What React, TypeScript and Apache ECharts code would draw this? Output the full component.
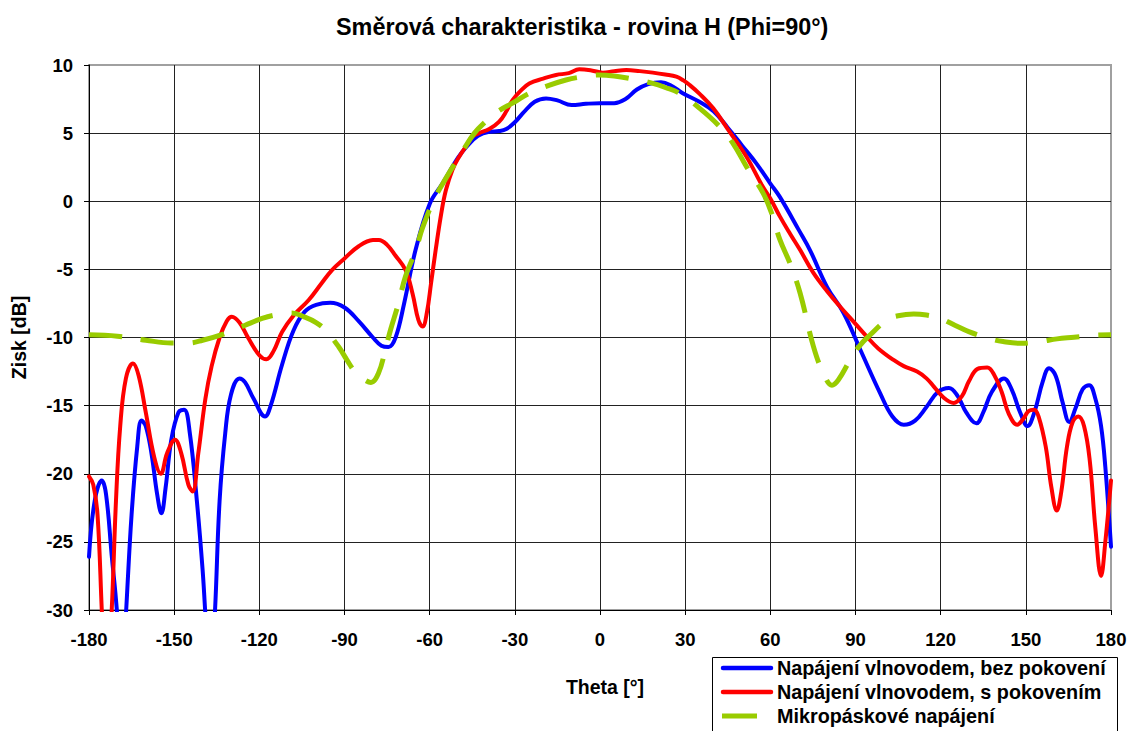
import React, { useEffect, useRef } from "react";
import * as echarts from "echarts";

const titleText = "Směrová charakteristika - rovina H (Phi=90°)";
const xAxisName = "Theta [°]";
const yAxisName = "Zisk [dB]";
const seriesNames = [
  "Napájení vlnovodem, bez pokovení",
  "Napájení vlnovodem, s pokovením",
  "Mikropáskové napájení",
];
const seriesColors = ["#0000ff", "#ff0000", "#99cc00"];

// Blue: waveguide feed, no metallization
const blueTheta = [-180, -178, -175.5, -174, -172, -170.2, -168.5, -166.9, -165, -163, -161.5, -160, -158, -156, -154.5, -153, -151, -148.5, -146.5, -144.5, -142, -140, -139.1, -137.3, -135.6, -134, -132, -130, -127, -125, -122, -118, -116, -112, -108, -104, -100, -95, -90, -85, -80, -77, -74.5, -72, -69, -65, -60, -55.5, -50, -47, -43, -39, -35.5, -33, -30, -27, -23, -19, -15, -10, -5, 0, 5, 9, 13, 17, 21.5, 25, 29, 35, 40, 45, 50, 55, 60, 63.4, 70, 74, 80, 85.8, 91.7, 98.7, 103, 107, 111, 115, 119, 122.9, 126, 129, 132.6, 135, 138, 142.3, 145, 148, 150.6, 153, 156, 158.2, 160.5, 163, 165.3, 167.5, 170, 172.3, 174.5, 176.5, 178, 180];
const blueGain = [-26.1, -22, -20.5, -21.5, -26, -30, -36, -30, -23, -18, -16.1, -16.5, -18.5, -21.5, -22.9, -21, -17.5, -15.5, -15.3, -17, -22, -27, -30, -36, -30, -22, -17, -14.2, -13.0, -13.3, -14.5, -15.8, -15, -12, -9.5, -8.1, -7.6, -7.45, -7.8, -8.8, -10, -10.6, -10.7, -10, -7.5, -3.6, -0.2, 1.3, 3.2, 4.0, 4.8, 5.1, 5.15, 5.3, 5.8, 6.5, 7.3, 7.55, 7.4, 7.06, 7.15, 7.2, 7.2, 7.5, 8.2, 8.6, 8.73, 8.5, 7.95, 7.3, 6.6, 5.4, 4.1, 2.8, 1.3, 0.3, -2.1, -3.6, -6.3, -8.2, -10.9, -14.1, -15.8, -16.4, -16.1, -15.1, -14, -13.7, -14.3, -15.5, -16.3, -15.5, -14, -13.0, -13.8, -15.5, -16.5, -15.5, -13.2, -12.26, -12.8, -14.8, -16.2, -15.2, -13.8, -13.5, -14.5, -16.5, -19.5, -25.35];

// Red: waveguide feed, with metallization
const redTheta = [-180, -178.5, -177, -175.5, -174, -172, -170.5, -169, -167, -164.5, -162.5, -160, -157, -154.7, -152.5, -149.7, -147.5, -145, -143.5, -141.5, -139, -136.8, -134, -131.5, -129.7, -127, -124, -120, -117.5, -115, -112, -108, -102.6, -98, -94.4, -90, -85, -80, -77.9, -75, -72, -68.5, -66, -64, -62.5, -61, -59.5, -57.9, -56, -54.3, -52, -49.6, -47, -45, -42.6, -39, -35.5, -33, -30.8, -28, -24.9, -20, -15.5, -11, -7.3, -3, 1, 5, 9.3, 14, 18.6, 23, 26.9, 29.5, 31.6, 35, 39.9, 45, 51.6, 57, 60, 63.4, 67, 70.5, 75, 80, 84.6, 90, 94, 98, 103.4, 107, 111.7, 115, 117.6, 121, 124.6, 127.5, 130, 133, 136.4, 139, 141.5, 144, 147, 149, 151, 152.9, 154.5, 157, 159, 160.9, 162.5, 164.5, 166.5, 168.5, 170.5, 172.5, 174.5, 176.5, 178, 180];
const redGain = [-20.2, -20.8, -23, -30, -37, -30, -22, -16.5, -13, -11.9, -12.8, -15.5, -18.8, -20.0, -18.5, -17.5, -18.5, -20.8, -21.3, -18.5, -14.5, -12.1, -10, -8.8, -8.47, -8.9, -10, -11.3, -11.6, -11, -9.6, -8.4, -7.25, -6, -5.05, -4.2, -3.3, -2.85, -2.84, -3.2, -4, -5.05, -6.8, -8.7, -9.2, -8.2, -6, -3.6, -1, 0.8, 2.3, 3.27, 4.1, 4.74, 5.0, 5.3, 5.84, 6.6, 7.43, 8.1, 8.65, 9.0, 9.27, 9.4, 9.68, 9.6, 9.44, 9.55, 9.63, 9.55, 9.44, 9.3, 9.14, 8.85, 8.53, 7.9, 6.82, 5.3, 3.27, 1.2, 0.2, -1.13, -2.4, -3.58, -5.2, -6.6, -7.74, -9.0, -9.94, -10.8, -11.65, -12.1, -12.5, -13, -13.6, -14.4, -14.8, -14.3, -13.2, -12.3, -12.2, -12.8, -14, -15.6, -16.4, -16, -15.4, -15.3, -15.8, -18, -21, -22.7, -21.3, -18, -16.2, -15.8, -16.5, -19, -24, -27.5, -25, -20.5];

// Green: microstrip feed
const greenTheta = [-180, -170, -160, -151, -145, -140, -132, -125, -119, -114.4, -108.5, -104, -100, -96.7, -92, -89, -86, -83, -80.7, -78, -75.5, -73.8, -71, -68.5, -64.9, -62.6, -58.5, -54.3, -48.5, -44.3, -40, -36.7, -30, -24.9, -18, -12, -7.3, -0.3, 5, 10.4, 18.6, 23, 28, 35.1, 42.2, 47, 51.6, 57.5, 60.5, 63.4, 66.9, 70.5, 75.2, 78.7, 81.7, 84, 88.1, 91.5, 95.2, 101.1, 105, 110.5, 115, 119.9, 125, 129.9, 137.6, 142, 148.2, 155, 161, 167, 173, 180];
const greenGain = [-9.8, -9.9, -10.2, -10.4, -10.4, -10.2, -9.7, -9.1, -8.6, -8.35, -8.2, -8.5, -8.9, -9.45, -10.7, -11.7, -12.6, -13.1, -13.3, -12.6, -10.8, -9.45, -7.5, -5.5, -3.6, -2.0, 0.1, 1.68, 3.64, 4.98, 5.9, 6.5, 7.3, 7.92, 8.5, 8.9, 9.1, 9.27, 9.2, 9.02, 8.65, 8.35, 7.92, 6.82, 5.47, 4.2, 2.54, 0.58, -0.9, -2.84, -4.55, -6.75, -10.67, -12.63, -13.5, -13.1, -11.65, -10.6, -9.8, -8.7, -8.4, -8.27, -8.35, -8.6, -9.1, -9.57, -10.1, -10.3, -10.43, -10.3, -10.1, -9.98, -9.85, -9.8];

const FONT = "'Liberation Sans', Arial, sans-serif";

function pairs(xs: number[], ys: number[]) {
  return xs.map((x, i) => [x, ys[i]]);
}

function buildLegend() {
  const boxX = 712;
  const boxY = 657;
  const rowY0 = 668;
  const rowStep = 24;
  const children: any[] = [
    {
      type: "rect",
      shape: { x: boxX + 0.5, y: boxY + 0.5, width: 405, height: 90 },
      style: { fill: "#fff", stroke: "#000", lineWidth: 1 },
    },
  ];
  seriesNames.forEach((name, i) => {
    const y = rowY0 + i * rowStep;
    const isDash = i === 2;
    children.push({
      type: "line",
      shape: { x1: isDash ? 722 : 723, y1: y, x2: isDash ? 757 : 771, y2: y },
      style: {
        stroke: seriesColors[i],
        lineWidth: isDash ? 5 : 4.5,
        lineCap: isDash ? "butt" : "round",
      },
    });
    children.push({
      type: "text",
      x: 777,
      y: y,
      style: {
        text: name,
        fill: "#000",
        font: `bold 19.8px ${FONT}`,
        verticalAlign: "middle",
        align: "left",
      },
    });
  });
  return [{ type: "group", children, z: 100 }];
}

export default function App() {
  const ref = useRef<HTMLDivElement>(null);
  useEffect(() => {
    if (!ref.current) return;
    const chart = echarts.init(ref.current, undefined, { renderer: "svg" });
    chart.setOption({
      animation: false,
      backgroundColor: "#ffffff",
      title: {
        text: titleText,
        left: 331,
        top: 10,
        textStyle: { fontFamily: FONT, fontWeight: "bold", fontSize: 23.4, color: "#000" },
      },
      grid: {
        left: 89,
        right: 23,
        top: 65,
        bottom: 121,
        show: true,
        borderColor: "#a0a0a0",
        borderWidth: 2,
      },
      graphic: buildLegend(),
      xAxis: {
        type: "value",
        min: -180,
        max: 180,
        interval: 30,
        name: xAxisName,
        nameLocation: "middle",
        nameGap: 67,
        nameTextStyle: { fontFamily: FONT, fontWeight: "bold", fontSize: 19.5, color: "#000", padding: [0, 0, 0, 10] },
        axisLine: { show: true, onZero: false, lineStyle: { color: "#000", width: 1 } },
        axisTick: { show: true, inside: false, length: 5, lineStyle: { color: "#000" } },
        axisLabel: { fontFamily: FONT, fontWeight: "bold", fontSize: 18.5, color: "#000", margin: 20 },
        splitLine: { show: true, showMaxLine: false, lineStyle: { color: "#222", width: 1 } },
      },
      yAxis: {
        type: "value",
        min: -30,
        max: 10,
        interval: 5,
        name: yAxisName,
        nameLocation: "middle",
        nameGap: 60,
        nameTextStyle: { fontFamily: FONT, fontWeight: "bold", fontSize: 19.5, color: "#000" },
        axisLine: { show: true, onZero: false, lineStyle: { color: "#000", width: 1 } },
        axisTick: { show: true, inside: false, length: 5, lineStyle: { color: "#000" } },
        axisLabel: { fontFamily: FONT, fontWeight: "bold", fontSize: 18.5, color: "#000", margin: 16 },
        splitLine: { show: true, showMaxLine: false, lineStyle: { color: "#222", width: 1 } },
      },
      series: [
        {
          name: seriesNames[0],
          type: "line",
          data: pairs(blueTheta, blueGain),
          smooth: 0.4,
          showSymbol: false,
          symbol: "none",
          clip: true,
          z: 3,
          lineStyle: { color: seriesColors[0], width: 4, cap: "round" },
          itemStyle: { color: seriesColors[0] },
        },
        {
          name: seriesNames[1],
          type: "line",
          data: pairs(redTheta, redGain),
          smooth: 0.4,
          showSymbol: false,
          symbol: "none",
          clip: true,
          z: 4,
          lineStyle: { color: seriesColors[1], width: 4, cap: "round" },
          itemStyle: { color: seriesColors[1] },
        },
        {
          name: seriesNames[2],
          type: "line",
          data: pairs(greenTheta, greenGain),
          smooth: 0.4,
          showSymbol: false,
          symbol: "none",
          clip: true,
          z: 5,
          lineStyle: { color: seriesColors[2], width: 5, type: [33, 19], cap: "butt" },
          itemStyle: { color: seriesColors[2] },
        },
      ],
    });
    return () => chart.dispose();
  }, []);
  return (
    <div
      ref={ref}
      style={{ position: "absolute", left: 0, top: 0, width: 1134, height: 731, background: "#fff" }}
    />
  );
}
